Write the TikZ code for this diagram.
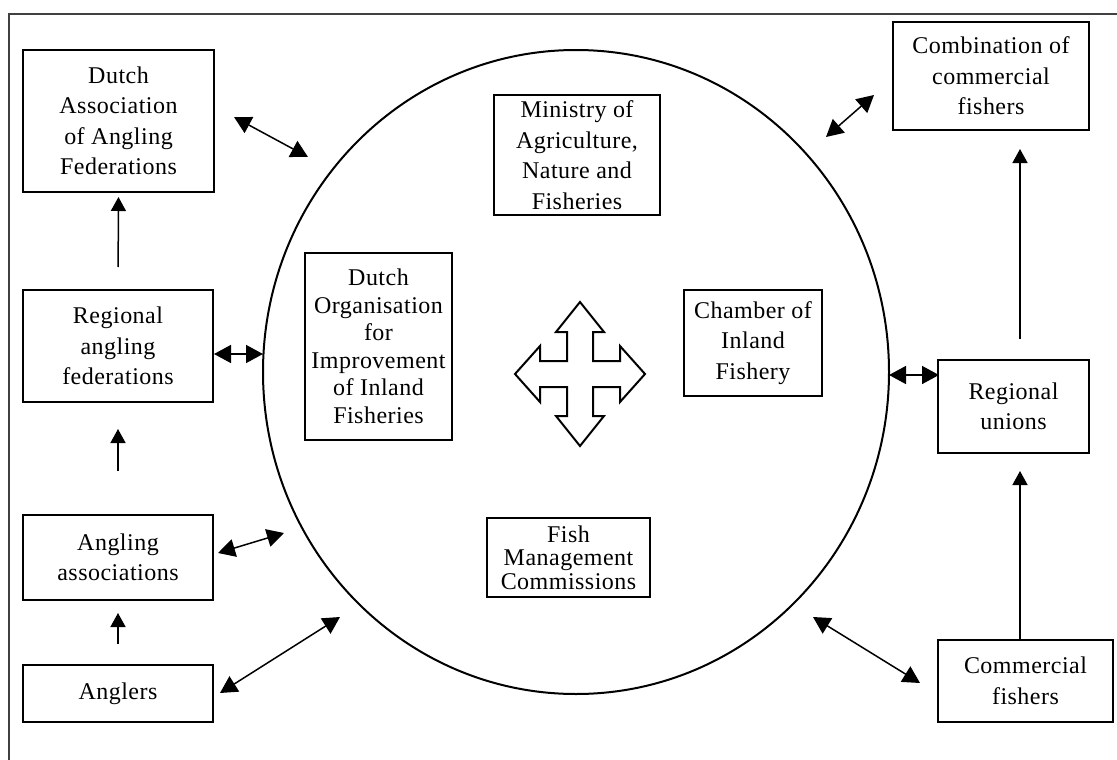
\documentclass[tikz,border=0pt]{standalone}
\usepackage{fontspec}
\setmainfont[LetterSpace=2]{Liberation Serif}
\usetikzlibrary{arrows.meta}
\tikzset{
  box/.style={draw, line width=2pt, align=center, inner sep=0pt,
    font=\fontsize{24}{30.5}\selectfont},
  link/.style={{Triangle[length=17pt,width=18pt]}-{Triangle[length=17pt,width=18pt]}, line width=1.5pt},
  up/.style={-{Triangle[length=14pt,width=15pt]}, line width=1.5pt}
}
\begin{document}
\begin{tikzpicture}[x=1pt, y=-1pt]
\useasboundingbox (0,0) rectangle (1117,760);
\draw[line width=2pt, black!75] (9,760)--(9,14)--(1117,14);
% the circle
\draw[line width=2pt] (576,372) ellipse [x radius=313, y radius=322];
% anglers side
\node[box, minimum width=191pt, minimum height=142pt] (dutch) at (118.5,121) {Dutch\\Association\\of Angling\\Federations};
\node[box, minimum width=190pt, minimum height=112pt] (regang) at (118,346) {Regional\\angling\\federations};
\node[box, minimum width=190pt, minimum height=85pt] (angass) at (118,557.5) {Angling\\associations};
\node[box, minimum width=190pt, minimum height=57pt] (anglers) at (118,693.5) {Anglers};
% inside the circle
\node[box, minimum width=166pt, minimum height=120pt] (ministry) at (577,155) {Ministry of\\Agriculture,\\Nature and\\Fisheries};
\node[box, minimum width=147pt, minimum height=187pt, font=\fontsize{24}{27.5}\selectfont] (organ) at (378.5,346.5) {Dutch\\Organisation\\for\\Improvement\\of Inland\\Fisheries};
\node[box, minimum width=138pt, minimum height=106pt] (chamber) at (753,343) {Chamber of\\Inland\\Fishery};
\node[box, minimum width=163pt, minimum height=79pt, font=\fontsize{24}{23.5}\selectfont] (fishman) at (568.5,557.5) {Fish\\Management\\Commissions};
% commercial side
\node[box, minimum width=196pt, minimum height=108pt] (combi) at (991,76) {Combination of\\commercial\\fishers};
\node[box, minimum width=151pt, minimum height=93pt] (regun) at (1013.5,406.5) {Regional\\unions};
\node[box, minimum width=175pt, minimum height=82pt] (comfish) at (1025.5,681) {Commercial\\fishers};
% four-way arrow
\draw[line width=2pt, shift={(580,374)}] (0,-72)--(24,-42)--(13,-42)--(13,-13)--(40,-13)--(40,-28)
  --(65,0)--(40,28)--(40,13)--(13,13)--(13,42)--(24,42)--(0,72)--(-24,42)--(-13,42)--(-13,13)
  --(-40,13)--(-40,28)--(-65,0)--(-40,-28)--(-40,-13)--(-13,-13)--(-13,-42)--(-24,-42)--cycle;
% hierarchy arrows
\draw[up, shorten <=22pt, shorten >=4pt] (regang.north) -- (dutch.south);
\draw[up, shorten <=43pt, shorten >=26pt] (angass.north) -- (regang.south);
\draw[up, shorten <=20pt, shorten >=12pt] (anglers.north) -- (angass.south);
\draw[up, shorten <=20pt, shorten >=18pt] ([xshift=6.5pt]regun.north) -- ([xshift=29pt]combi.south);
\draw[up, shorten >=17pt] ([xshift=-5.5pt]comfish.north) -- ([xshift=6.5pt]regun.south);
% links with the circle
\coordinate (dutchend) at (234,117);
\coordinate (dutchcirc) at (308,157);
\coordinate (combiend) at (874,95);
\coordinate (combicirc) at (826,137);
\coordinate (regangend) at (214,354);
\coordinate (regangcirc) at (263,354);
\coordinate (regunend) at (939,375);
\coordinate (reguncirc) at (889,375);
\coordinate (angassend) at (218,553);
\coordinate (angasscirc) at (284,533);
\coordinate (anglersend) at (220,693);
\coordinate (anglerscirc) at (340,617);
\coordinate (comfishend) at (920,683);
\coordinate (comfishcirc) at (813,617);
\foreach \n in {dutch,combi,regang,regun,angass,anglers,comfish}
{
    \draw[link] (\n end) -- (\n circ);
}
\end{tikzpicture}
\end{document}
